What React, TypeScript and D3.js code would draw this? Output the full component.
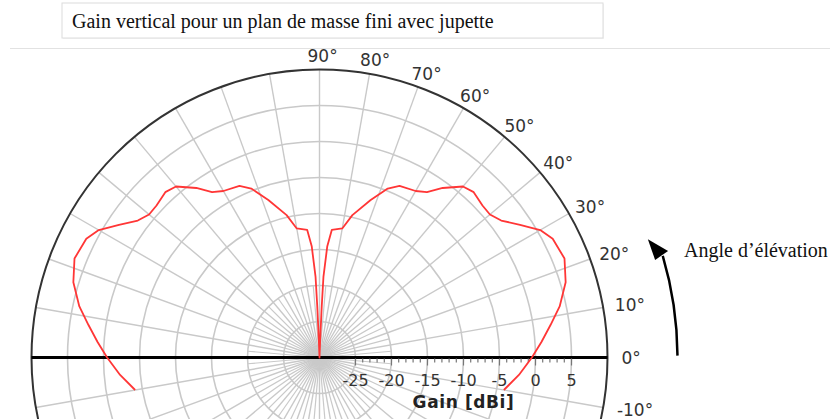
import * as d3 from 'd3';

// Elevation pattern, right half (elevation angle in degrees, gain in dBi).
// The left half is the mirror image (180° - angle).
const ELEVATION = [
  -10, -5, 0, 4, 8, 12, 17, 22, 27, 30, 33.5, 37, 40, 43, 47, 50, 54, 57, 60,
  65, 68, 72, 77, 80, 84.5, 86, 87.2, 87.5, 87.8, 90,
];
const GAIN = [
  -4.0, -2.2, -0.5, 0.9, 2.4, 4.1, 5.75, 6.7, 6.35, 5.4, 3.4, 1.6, 0.9, 0.95,
  1.4, 1.0, -0.9, -2.6, -3.3, -3.7, -4.7, -7.0, -9.7, -11.8, -12.2, -14.5,
  -18.8, -22.9, -27.5, -30,
];

const RINGS = [-25, -20, -15, -10, -5, 0, 5];
const GAIN_LABELS = [-25, -20, -15, -10, -5, 0, 5];
const ANGLE_LABELS = [-10, 0, 10, 20, 30, 40, 50, 60, 70, 80, 90];

const TITLE = 'Gain vertical pour un plan de masse fini avec jupette';
const AXIS_TITLE = 'Gain [dBi]';
const ARROW_LABEL = 'Angle d’élévation';

const W = 830;
const H = 419;
const CX = 319.5;
const CY = 357.5;
const R = 288;
const GRID = '#c9c9c9';
const LABEL = '#333';

const rad = d3.scaleLinear().domain([-30, 10]).range([0, R]);
const toRad = (deg: number) => (deg * Math.PI) / 180;
const polar = (r: number, deg: number): [number, number] => [
  CX + r * Math.cos(toRad(deg)),
  CY - r * Math.sin(toRad(deg)),
];

export default function App() {
  // full pattern: right half then the mirrored left half
  const pts: [number, number][] = ELEVATION.map((a, i) => [a, GAIN[i]]);
  for (let i = ELEVATION.length - 2; i >= 0; i--) {
    pts.push([180 - ELEVATION[i], GAIN[i]]);
  }

  const line = d3
    .lineRadial<[number, number]>()
    .angle((d) => toRad(90 - d[0]))
    .radius((d) => rad(d[1]))
    .curve(d3.curveLinear);

  const spokes10 = d3.range(0, 360, 10);
  const spokes5 = d3.range(5, 360, 10);
  const minorTicks = d3.range(-25, 6, 1);

  // curved arrow for the elevation angle
  const arcPath = d3.path();
  arcPath.arc(0, 0, 358, -toRad(0.3), -toRad(16.5), true);
  const head = [polar(349, 19.8), polar(364.5, 17.0), polar(349.5, 16.2)];

  return (
    <svg
      width={W}
      height={H}
      style={{ position: 'absolute', left: 0, top: 0, background: '#fff' }}
    >
      {/* title box */}
      <rect x={63} y={4} width={541} height={35} fill="#f4f4f4" />
      <rect x={62} y={3} width={541} height={35} fill="#fff" stroke="#dcdcdc" />
      <text
        x={72}
        y={28}
        fontFamily="'Liberation Serif', 'Times New Roman', serif"
        fontSize={20}
        fill="#111"
      >
        {TITLE}
      </text>
      <line x1={10} x2={W} y1={48.5} y2={48.5} stroke="#e2e2e2" strokeWidth={1} />

      <g transform={`translate(${CX},${CY})`}>
        {/* spokes */}
        {spokes10.map((a) => (
          <line
            key={'s' + a}
            x1={0}
            y1={0}
            x2={R * Math.cos(toRad(a))}
            y2={-R * Math.sin(toRad(a))}
            stroke={GRID}
            strokeWidth={1.4}
          />
        ))}
        {spokes5.map((a) => (
          <line
            key={'m' + a}
            x1={0}
            y1={0}
            x2={rad(-20) * Math.cos(toRad(a))}
            y2={-rad(-20) * Math.sin(toRad(a))}
            stroke={GRID}
            strokeWidth={1.2}
          />
        ))}
        {/* rings */}
        {RINGS.map((g) => (
          <circle key={g} r={rad(g)} fill="none" stroke={GRID} strokeWidth={1.6} />
        ))}
        <circle r={rad(10)} fill="none" stroke="#333" strokeWidth={2} />

        {/* horizon line */}
        <line x1={-R} x2={R} y1={0} y2={0} stroke="#000" strokeWidth={3} />

        {/* gain ticks */}
        {minorTicks.map((g) => (
          <line
            key={'t' + g}
            x1={rad(g)}
            x2={rad(g)}
            y1={1}
            y2={g % 5 === 0 ? 8 : 5}
            stroke="#777"
            strokeWidth={1.2}
          />
        ))}
        {GAIN_LABELS.map((g) => (
          <text
            key={'g' + g}
            x={rad(g)}
            y={28}
            textAnchor="middle"
            fontFamily="'DejaVu Sans', sans-serif"
            fontSize={16}
            fill={LABEL}
          >
            {g}
          </text>
        ))}
        <text
          x={rad(-10)}
          y={50}
          textAnchor="middle"
          fontFamily="'DejaVu Sans', sans-serif"
          fontWeight="bold"
          fontSize={17}
          letterSpacing={0.6}
          fill="#222"
        >
          {AXIS_TITLE}
        </text>

        {/* pattern */}
        <path
          d={line(pts) || ''}
          fill="none"
          stroke="#ff3636"
          strokeWidth={1.8}
          strokeLinejoin="round"
        />
      </g>

      {/* angle labels */}
      {ANGLE_LABELS.map((a) => {
        const [x, y] = polar(302, a);
        return (
          <text
            key={'a' + a}
            x={x - 12 * Math.max(0, Math.sin(toRad(a)))}
            y={y}
            dominantBaseline="central"
            fontFamily="'DejaVu Sans', sans-serif"
            fontSize={17}
            fill={LABEL}
          >
            {`${a}°`}
          </text>
        );
      })}

      {/* elevation arrow */}
      <path
        d={arcPath.toString()}
        transform={`translate(${CX},${CY})`}
        fill="none"
        stroke="#000"
        strokeWidth={2.5}
      />
      <polygon points={head.map((p) => p.join(',')).join(' ')} fill="#000" />
      <text
        x={684}
        y={257}
        fontFamily="'Liberation Serif', 'Times New Roman', serif"
        fontSize={20}
        fill="#111"
      >
        {ARROW_LABEL}
      </text>
    </svg>
  );
}
